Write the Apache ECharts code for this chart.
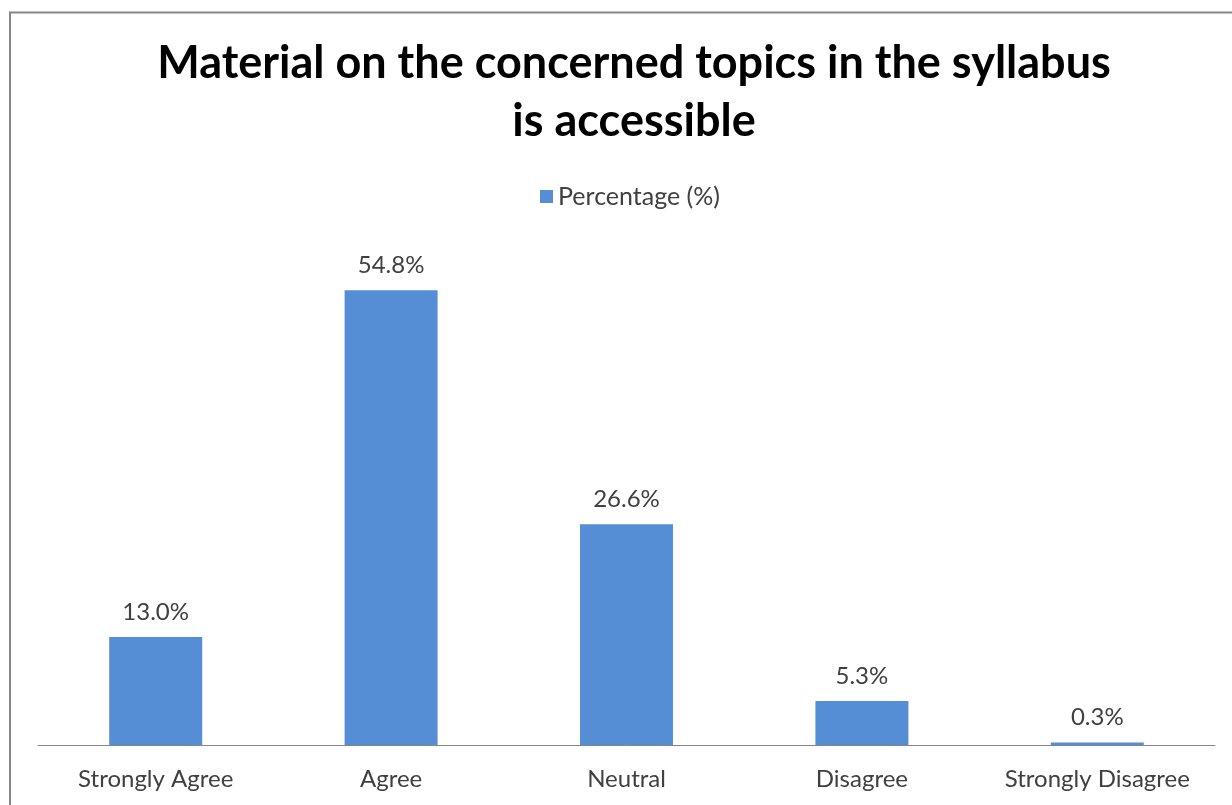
<!DOCTYPE html>
<html>
<head>
<meta charset="utf-8">
<script src="https://cdn.jsdelivr.net/npm/echarts@6/dist/echarts.min.js"></script>
<style>
  html, body { margin: 0; padding: 0; background: #ffffff; }
  #chart { width: 1232px; height: 805px; }
</style>
</head>
<body>
<div id="chart"></div>
<script>
// Survey responses
const categories = ['Strongly Agree', 'Agree', 'Neutral', 'Disagree', 'Strongly Disagree'];
const percentages = [13.0, 54.8, 26.6, 5.3, 0.3];
const seriesName = 'Percentage (%)';
const titleText = 'Material on the concerned topics in the syllabus\nis accessible';

const font = 'Lato, "Liberation Sans", sans-serif';
const chart = echarts.init(document.getElementById('chart'), null, { renderer: 'canvas' });

chart.setOption({
  backgroundColor: '#ffffff',
  animation: false,
  graphic: [{
    type: 'rect',
    shape: { x: 10, y: 12.5, width: 1400, height: 1000 },
    style: { fill: 'none', stroke: '#868686', lineWidth: 2 },
    silent: true
  }],
  title: {
    text: titleText,
    left: 629,
    textAlign: 'center',
    top: 29,
    textStyle: {
      fontFamily: font,
      fontWeight: 'bold',
      fontSize: 45,
      lineHeight: 58,
      color: '#000000'
    }
  },
  legend: {
    data: [seriesName],
    top: 179,
    left: 535,
    itemWidth: 13,
    itemHeight: 13,
    itemGap: 8,
    icon: 'rect',
    textStyle: { fontFamily: font, fontSize: 25, color: '#404040' }
  },
  grid: { left: 38, right: 17, top: 247, bottom: 60, containLabel: false },
  xAxis: {
    type: 'category',
    data: categories,
    axisLine: { show: true, lineStyle: { color: '#868686', width: 1 } },
    axisTick: { show: false },
    axisLabel: { interval: 0, fontFamily: font, fontSize: 24, color: '#404040', margin: 22 }
  },
  yAxis: {
    type: 'value',
    min: 0,
    max: 60,
    show: false,
    splitLine: { show: false }
  },
  series: [{
    name: seriesName,
    type: 'bar',
    data: percentages,
    barWidth: '39.5%',
    itemStyle: { color: '#558ed5' },
    label: {
      show: true,
      position: 'top',
      distance: 13,
      formatter: p => p.value.toFixed(1) + '%',
      fontFamily: font,
      fontSize: 24,
      color: '#404040'
    }
  }]
});
</script>
</body>
</html>
